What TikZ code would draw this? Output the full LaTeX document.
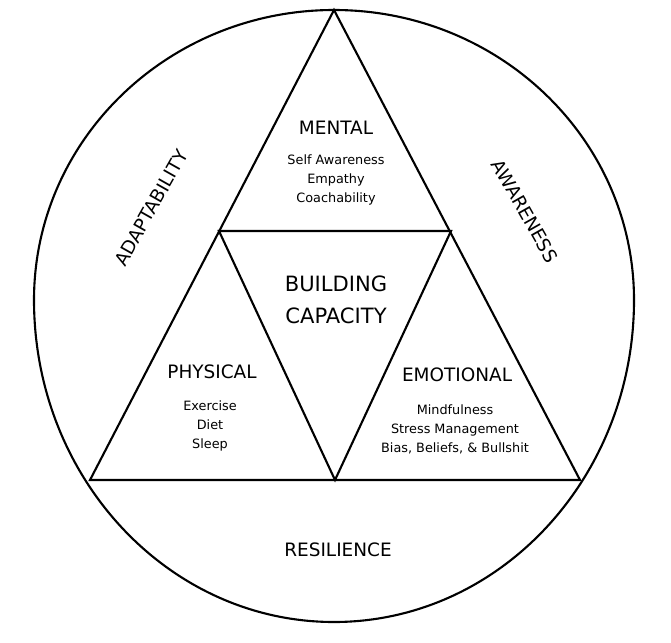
\documentclass[tikz,border=0pt]{standalone}
\usepackage{fontspec}
\setmainfont{DejaVu Sans}
\usepackage{tikz}
\usetikzlibrary{positioning}

\begin{document}
\begin{tikzpicture}[x=0.02cm,y=-0.02cm,
  edge/.style={line width=1.2pt},
  head/.style={font=\fontsize{10.5}{12}\selectfont},
  core/.style={font=\fontsize{12}{18}\selectfont, align=center},
  item/.style={font=\fontsize{7.3}{10.75}\selectfont, align=center}]
\fill[white] (0,0) rectangle (671,642);
\useasboundingbox (0,0) rectangle (671,642);
\draw[edge] (634,300) arc[start angle=0, end angle=-180, x radius=300, y radius=290]
  arc[start angle=180, end angle=0, x radius=300, y radius=322];
\coordinate (apex) at (334,10);
\coordinate (left) at (90,480);
\coordinate (right) at (580,480);
\coordinate (inl) at (219,231);
\coordinate (inr) at (451,231);
\coordinate (inb) at (335,480);
\draw[edge] (apex) -- (left) -- (right) -- cycle;
\draw[edge] (inl) -- (inr) -- (inb) -- cycle;
\node[head] (mental) at (336,128) {MENTAL};
\node[item] (mentalitems) at (336,180) {Self Awareness\\Empathy\\Coachability};
\node[core] (centre) at (336,300) {BUILDING\\CAPACITY};
\node[head] (physical) at (212,372) {PHYSICAL};
\node[item] (physicalitems) at (210,426) {Exercise\\Diet\\Sleep};
\node[head] (emotional) at (457,375) {EMOTIONAL};
\node[item] (emotionalitems) at (455,429) {Mindfulness\\Stress Management\\Bias, Beliefs, \& Bullshit};
\node[head, rotate=60.5] (adapt) at (151,208) {ADAPTABILITY};
\node[head, rotate=-60.5] (aware) at (525,211) {AWARENESS};
\node[head] (resil) at (338,550) {RESILIENCE};
\end{tikzpicture}
\end{document}
